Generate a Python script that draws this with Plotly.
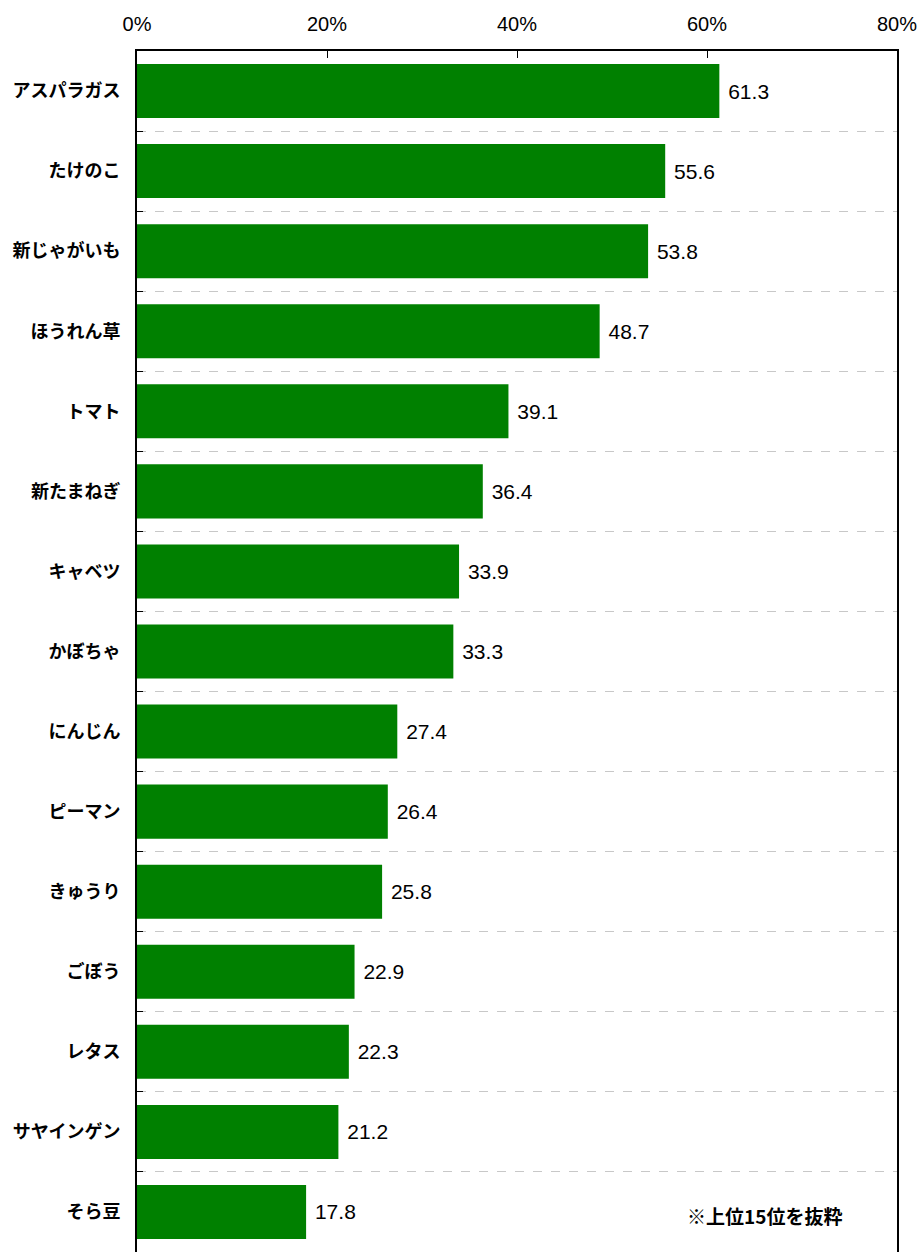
import plotly.graph_objects as go

categories = ["アスパラガス", "たけのこ", "新じゃがいも", "ほうれん草", "トマト", "新たまねぎ",
              "キャベツ", "かぼちゃ", "にんじん", "ピーマン", "きゅうり", "ごぼう",
              "レタス", "サヤインゲン", "そら豆"]
values = [61.3, 55.6, 53.8, 48.7, 39.1, 36.4, 33.9, 33.3, 27.4, 26.4, 25.8, 22.9, 22.3, 21.2, 17.8]
x_ticks = [0, 20, 40, 60, 80]
note = "※上位15位を抜粋"

pos = list(range(len(categories)))
jp = "Noto Sans CJK JP, Noto Sans, sans-serif"
num = "Liberation Sans, Arial, sans-serif"

fig = go.Figure()
fig.add_trace(go.Bar(
    x=values, y=pos, orientation="h",
    marker=dict(color="#008000", line=dict(width=0)),
    text=[f"{v:.1f}" for v in values],
    texttemplate=" %{text}",
    textposition="outside",
    cliponaxis=False,
    textfont=dict(family=num, size=21, color="black"),
    width=0.675,
    hoverinfo="skip",
))

fig.update_layout(
    width=919, height=1252,
    margin=dict(l=137, r=22, t=51, b=0, autoexpand=False),
    paper_bgcolor="white", plot_bgcolor="white",
    showlegend=False,
    xaxis=dict(
        range=[0, 80], side="top", tickvals=x_ticks,
        ticktext=[f"{t}%" for t in x_ticks],
        ticks="inside", ticklen=7, tickcolor="black", tickwidth=1,
        showgrid=False, zeroline=False,
        showline=True, linecolor="black", linewidth=2,
        tickfont=dict(family=num, size=20, color="black"),
        ticklabelstandoff=10,
        fixedrange=True,
    ),
    yaxis=dict(
        range=[len(categories) - 0.5, -0.5],
        tickvals=pos, ticktext=categories,
        ticks="", showgrid=False, zeroline=False,
        showline=True, linecolor="black", linewidth=2, mirror=True,
        tickfont=dict(family=jp, size=18, color="black", weight="bold"),
        ticklabelstandoff=11,
        minor=dict(tickvals=[p + 0.5 for p in pos[:-1]], showgrid=True,
                   gridcolor="#c8c8c8", griddash="dash", gridwidth=1,
                   ticks="inside", ticklen=6, tickcolor="black", tickwidth=1),
        fixedrange=True,
    ),
    annotations=[dict(
        text=note, x=66.0, y=len(categories) - 1 + 0.05, xref="x", yref="y",
        showarrow=False, xanchor="center", yanchor="middle",
        font=dict(family=jp, size=19, color="black", weight="bold"),
    )],
)

fig.write_html("out.html", config={"displayModeBar": False},
               post_script="document.body.style.margin='0px';")
